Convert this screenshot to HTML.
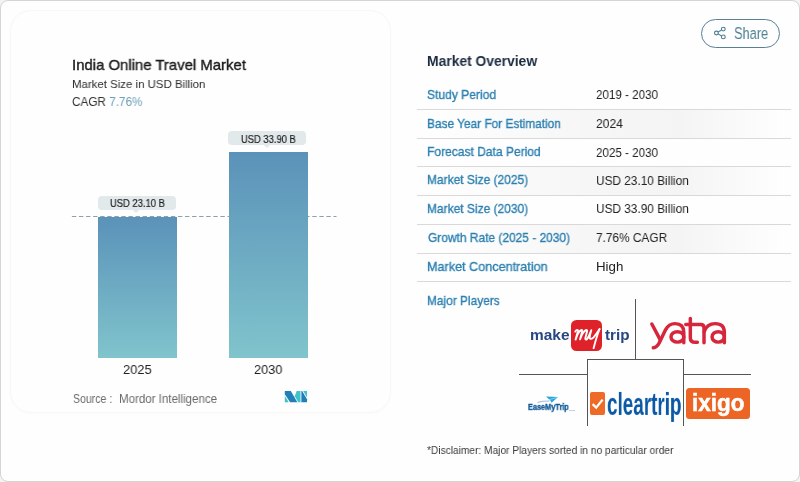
<!DOCTYPE html>
<html><head><meta charset="utf-8">
<style>
*{margin:0;padding:0;box-sizing:border-box}
html,body{width:800px;height:482px;overflow:hidden;background:#f3f3f3;font-family:"Liberation Sans",sans-serif;}
#frame{position:absolute;left:0;top:0;width:800px;height:482px;background:#fefefe;border:1px solid #d4d4d4;border-radius:8px;}
#card{position:absolute;left:10px;top:10px;width:381px;height:403px;border-radius:21px;border:1px solid #f7f7f7;background:#fefefe;box-shadow:0 1px 3px rgba(0,0,0,0.015);}
.t{position:absolute;white-space:nowrap;line-height:1;transform-origin:0 0;will-change:transform;}
.bar{position:absolute;background:linear-gradient(#5b92b9,#80c4cc);}
.lab{position:absolute;background:#e2e9eb;border-radius:4px;height:14.3px;}
.lab:after{content:"";position:absolute;left:50%;margin-left:-3.5px;top:14.2px;border:3.5px solid transparent;border-top-color:#e2e9eb;}
.row{position:absolute;left:417px;width:374px;height:1px;background:#d9d9d9;}
.ln{position:absolute;background:#555;}
</style></head><body>
<div id="frame"></div>
<div id="card"></div>
<svg style="position:absolute;left:0;top:210px" width="400" height="12"><line x1="71.9" y1="6.5" x2="336.5" y2="6.5" stroke="#8ba1ad" stroke-width="1" stroke-dasharray="4.4 2.67"/></svg>
<div class="bar" style="left:98px;top:217px;width:79px;height:141px;background:linear-gradient(#5b92b9,#80c4cc)"></div>
<div class="bar" style="left:229px;top:152px;width:79px;height:206px"></div>

<div class="lab" style="left:98.1px;top:195.7px;width:77.8px;"></div>
<div class="lab" style="left:228.3px;top:131px;width:77.7px;"></div>
<svg style="position:absolute;left:280px;top:386px" width="32" height="21" viewBox="0 0 734 482">
<polygon points="110,115 248,115 398,375 232,375 110,188" fill="#1f7fb6"/>
<polygon points="110,232 110,375 200,375" fill="#3fbfc8"/>
<polygon points="382,115 470,115 470,375 418,375 338,238" fill="#3fc3cb"/>
<polygon points="490,115 508,115 620,305 620,375 490,375" fill="#1f7fb6"/>
<polygon points="532,115 620,115 620,265" fill="#3fbfc8"/>
</svg>
<div style="position:absolute;left:417px;top:110px;width:374px;height:28px;background:linear-gradient(90deg,rgba(0,0,0,0) 5%,rgba(0,0,0,0.03) 45%,rgba(0,0,0,0.04) 70%,rgba(0,0,0,0) 98%)"></div>
<div style="position:absolute;left:417px;top:167px;width:374px;height:28px;background:linear-gradient(90deg,rgba(0,0,0,0) 5%,rgba(0,0,0,0.03) 45%,rgba(0,0,0,0.04) 70%,rgba(0,0,0,0) 98%)"></div>
<div style="position:absolute;left:417px;top:225px;width:374px;height:28px;background:linear-gradient(90deg,rgba(0,0,0,0) 5%,rgba(0,0,0,0.03) 45%,rgba(0,0,0,0.04) 70%,rgba(0,0,0,0) 98%)"></div>
<div class="row" style="top:109px"></div>
<div class="row" style="top:138px"></div>
<div class="row" style="top:166px"></div>
<div class="row" style="top:195px"></div>
<div class="row" style="top:224px"></div>
<div class="row" style="top:253px"></div>
<div class="row" style="top:281px"></div>
<div id="share" style="position:absolute;left:701px;top:19px;width:79px;height:29px;border:1px solid #5a8095;border-radius:15px;"></div>
<div class="ln" style="left:635px;top:299px;width:1px;height:61px"></div>
<div class="ln" style="left:587px;top:359px;width:97px;height:1px"></div>
<div class="ln" style="left:587px;top:359px;width:1px;height:67px"></div>
<div class="ln" style="left:683px;top:359px;width:1px;height:67px"></div>
<div class="ln" style="left:519px;top:374px;width:68px;height:1px"></div>
<div class="ln" style="left:683px;top:374px;width:68px;height:1px"></div>
<svg style="position:absolute;left:712px;top:25px" width="16" height="16" viewBox="0 0 16 16" fill="none" stroke="#4c7d92" stroke-width="1.1">
<circle cx="4.4" cy="8" r="1.9"/><circle cx="11.3" cy="4.1" r="1.9"/><circle cx="11.3" cy="11.9" r="1.9"/>
<line x1="6.1" y1="7.1" x2="9.6" y2="5.0"/><line x1="6.1" y1="8.9" x2="9.6" y2="11.0"/>
</svg>
<!-- makemytrip red tile -->
<div style="position:absolute;left:571px;top:320px;width:31.3px;height:31px;border-radius:5.5px;background:#df2229"></div>
<svg style="position:absolute;left:571px;top:320px" width="32" height="31" viewBox="0 0 32 31" fill="none" stroke="#fff" stroke-width="1.9" stroke-linecap="round" stroke-linejoin="round">
<path d="M4.3,11.6 C5.2,9.6 7.2,9.2 6.9,11.2 L4.6,19.6 C6,15 8.2,10.8 10.4,10 C11.6,9.8 11.2,11.5 10.9,12.6 L9,19.4 C10.5,15 13,10.8 15.2,10 C16.4,9.8 16.1,11.4 15.8,12.6 L14.4,18 C14,19.6 15,20 16,19.2 C17.5,17.6 19,13 20.3,10.2 C19.6,12.6 18.6,15.6 18.6,17.4 C18.7,19.6 21,19.2 22.6,17.4 C24.8,14.8 27,11.4 28.4,9.2"/>
<path d="M28.6,9 C26.6,14 24.2,22 22.6,28.2"/>
</svg>
<!-- yatra -->
<svg style="position:absolute;left:646px;top:312px" width="50" height="40" viewBox="0 0 602 482" fill="none" stroke="#d7263c" stroke-width="42" stroke-linecap="round" stroke-linejoin="round">
<path d="M70,145 L172,335"/>
<path d="M88,432 Q130,428 160,370 L235,215 Q275,140 350,140 Q455,140 455,245 L455,372"/>
<ellipse cx="378" cy="300" rx="77" ry="63"/>
</svg>
<svg style="position:absolute;left:682px;top:312px" width="50" height="40" viewBox="0 0 602 482" fill="none" stroke="#d7263c" stroke-width="42" stroke-linecap="round" stroke-linejoin="round">
<path d="M100,78 L100,310 Q100,365 160,365 L185,365"/>
<path d="M45,150 L225,150 Q265,150 265,190 L265,372"/>
<path d="M268,235 Q300,140 400,140 Q510,140 510,245 L510,372"/>
<ellipse cx="436" cy="300" rx="74" ry="63"/>
</svg>
<!-- easemytrip plane -->
<svg style="position:absolute;left:535px;top:394px" width="26" height="12" viewBox="0 0 26 12">
<path d="M11,2.4 L23,3.1 L16.6,8.8 L15.4,6.6 Z" fill="#2aa5db"/>
<path d="M13.2,5.9 L22.4,3.4" stroke="#d8f0fb" stroke-width="0.5" fill="none"/>
<path d="M2.5,8.4 Q7,6.9 14.6,7.0" fill="none" stroke="#1b6cab" stroke-width="0.45"/>
</svg>
<!-- cleartrip tile -->
<div style="position:absolute;left:590px;top:392.3px;width:15.2px;height:23.2px;border-radius:2px;background:#ef6a26"></div>
<svg style="position:absolute;left:590px;top:392px" width="16" height="24" viewBox="0 0 16 24" fill="none" stroke="#fff" stroke-width="2.3" stroke-linecap="butt" stroke-linejoin="miter">
<path d="M2.6,12.2 L6.2,15.6 L12.6,7.6"/>
</svg>
<!-- ixigo tile -->
<div style="position:absolute;left:685.5px;top:387.8px;width:64px;height:31px;border-radius:3.5px;background:#ec6525"></div>
<div style="position:absolute;left:568.8px;top:409.8px;width:6px;height:1.4px;background:#1b6cab;opacity:0.28"></div>
<div class="t" style="left:71.81px;top:56.90px;font-size:15px;font-weight:normal;color:#1a1a1a;-webkit-text-stroke:0.4px #1a1a1a;transform:scale(0.9931,1.0000)">India Online Travel Market</div>
<div class="t" style="left:71.83px;top:79.00px;font-size:11.8px;color:#2b2b2b;transform:scale(0.9691,1.0000)">Market Size in USD Billion</div>
<div class="t" style="left:71.85px;top:96.30px;font-size:12.4px;color:#333;transform:scale(0.9479,1.0000)">CAGR <span style="color:#6c9fba">7.76%</span></div>
<div class="t" style="left:109.51px;top:198.20px;font-size:10.5px;color:#1e1e1e;-webkit-text-stroke:0.2px #1e1e1e;transform:scale(0.8950,1.0000)">USD 23.10 B</div>
<div class="t" style="left:240.61px;top:133.80px;font-size:10.5px;color:#1e1e1e;-webkit-text-stroke:0.2px #1e1e1e;transform:scale(0.8933,1.0000)">USD 33.90 B</div>
<div class="t" style="left:123.04px;top:363.00px;font-size:13.5px;color:#222;transform:scale(0.9552,1.0000)">2025</div>
<div class="t" style="left:254.06px;top:363.00px;font-size:13.5px;color:#222;transform:scale(0.9448,1.0000)">2030</div>
<div class="t" style="left:73.12px;top:392.60px;font-size:12px;color:#6a6a6a;transform:scale(0.8791,1.0000)">Source :</div>
<div class="t" style="left:119.24px;top:392.60px;font-size:12px;color:#6a6a6a;transform:scale(0.9604,1.0000)">Mordor Intelligence</div>
<div class="t" style="left:426.61px;top:54.40px;font-size:14px;font-weight:bold;color:#1b2b40;transform:scale(0.9891,1.0000)">Market Overview</div>
<div class="t" style="left:426.67px;top:87.50px;font-size:13px;color:#2b7fb0;-webkit-text-stroke:0.35px #2b7fb0;transform:scale(0.9288,1.0000)">Study Period</div>
<div class="t" style="left:426.69px;top:116.50px;font-size:13px;color:#2b7fb0;-webkit-text-stroke:0.35px #2b7fb0;transform:scale(0.9124,1.0000)">Base Year For Estimation</div>
<div class="t" style="left:426.67px;top:145.30px;font-size:13px;color:#2b7fb0;-webkit-text-stroke:0.35px #2b7fb0;transform:scale(0.9256,1.0000)">Forecast Data Period</div>
<div class="t" style="left:426.68px;top:173.20px;font-size:13px;color:#2b7fb0;-webkit-text-stroke:0.35px #2b7fb0;transform:scale(0.9213,1.0000)">Market Size (2025)</div>
<div class="t" style="left:426.68px;top:202.00px;font-size:13px;color:#2b7fb0;-webkit-text-stroke:0.35px #2b7fb0;transform:scale(0.9213,1.0000)">Market Size (2030)</div>
<div class="t" style="left:427.60px;top:231.20px;font-size:13px;color:#2b7fb0;-webkit-text-stroke:0.35px #2b7fb0;transform:scale(0.9188,1.0000)">Growth Rate (2025 - 2030)</div>
<div class="t" style="left:426.63px;top:260.20px;font-size:13px;color:#2b7fb0;-webkit-text-stroke:0.35px #2b7fb0;transform:scale(0.9707,1.0000)">Market Concentration</div>
<div class="t" style="left:426.69px;top:294.20px;font-size:13px;color:#2b7fb0;-webkit-text-stroke:0.35px #2b7fb0;transform:scale(0.9141,1.0000)">Major Players</div>
<div class="t" style="left:595.71px;top:87.80px;font-size:13px;color:#222;transform:scale(0.8926,1.0000)">2019 - 2030</div>
<div class="t" style="left:595.67px;top:116.80px;font-size:13px;color:#222;transform:scale(0.9286,1.0000)">2024</div>
<div class="t" style="left:595.71px;top:145.50px;font-size:13px;color:#222;transform:scale(0.8926,1.0000)">2025 - 2030</div>
<div class="t" style="left:595.69px;top:173.50px;font-size:13px;color:#222;transform:scale(0.9100,1.0000)">USD 23.10 Billion</div>
<div class="t" style="left:595.69px;top:202.20px;font-size:13px;color:#222;transform:scale(0.9100,1.0000)">USD 33.90 Billion</div>
<div class="t" style="left:595.69px;top:231.40px;font-size:13px;color:#222;transform:scale(0.9118,1.0000)">7.76% CAGR</div>
<div class="t" style="left:595.58px;top:260.30px;font-size:13px;color:#222;transform:scale(1.0240,1.0000)">High</div>
<div class="t" style="left:733.97px;top:26.06px;font-size:15.4px;color:#4c8092;transform:scale(0.8325,1.0182)">Share</div>
<div class="t" style="left:426.50px;top:445.30px;font-size:11px;color:#3a3a3a;transform:scale(0.9243,1.0000)">*Disclaimer: Major Players sorted in no particular order</div>
<div class="t" style="left:529.70px;top:327.70px;font-size:14px;font-weight:bold;color:#284682;transform:scale(1.1029,1.0000)">make</div>
<div class="t" style="left:605.20px;top:327.70px;font-size:14px;font-weight:bold;color:#284682;transform:scale(1.0909,1.0000)">trip</div>
<div class="t" style="left:527.80px;top:403.40px;font-size:8.5px;font-weight:bold;color:#125a99;-webkit-text-stroke:0.4px #125a99;transform:scale(0.8617,0.9778)">EaseMyTrip</div>
<div class="t" style="left:607.17px;top:389.17px;font-size:30px;font-weight:bold;color:#0b59a6;transform:scale(0.6293,1.0429)">cleartrip</div>
<div class="t" style="left:691.58px;top:390.83px;font-size:22px;font-weight:bold;color:#fff;-webkit-text-stroke:0.5px #fff;transform:scale(1.0200,1.0857)">ixigo</div></body></html>
